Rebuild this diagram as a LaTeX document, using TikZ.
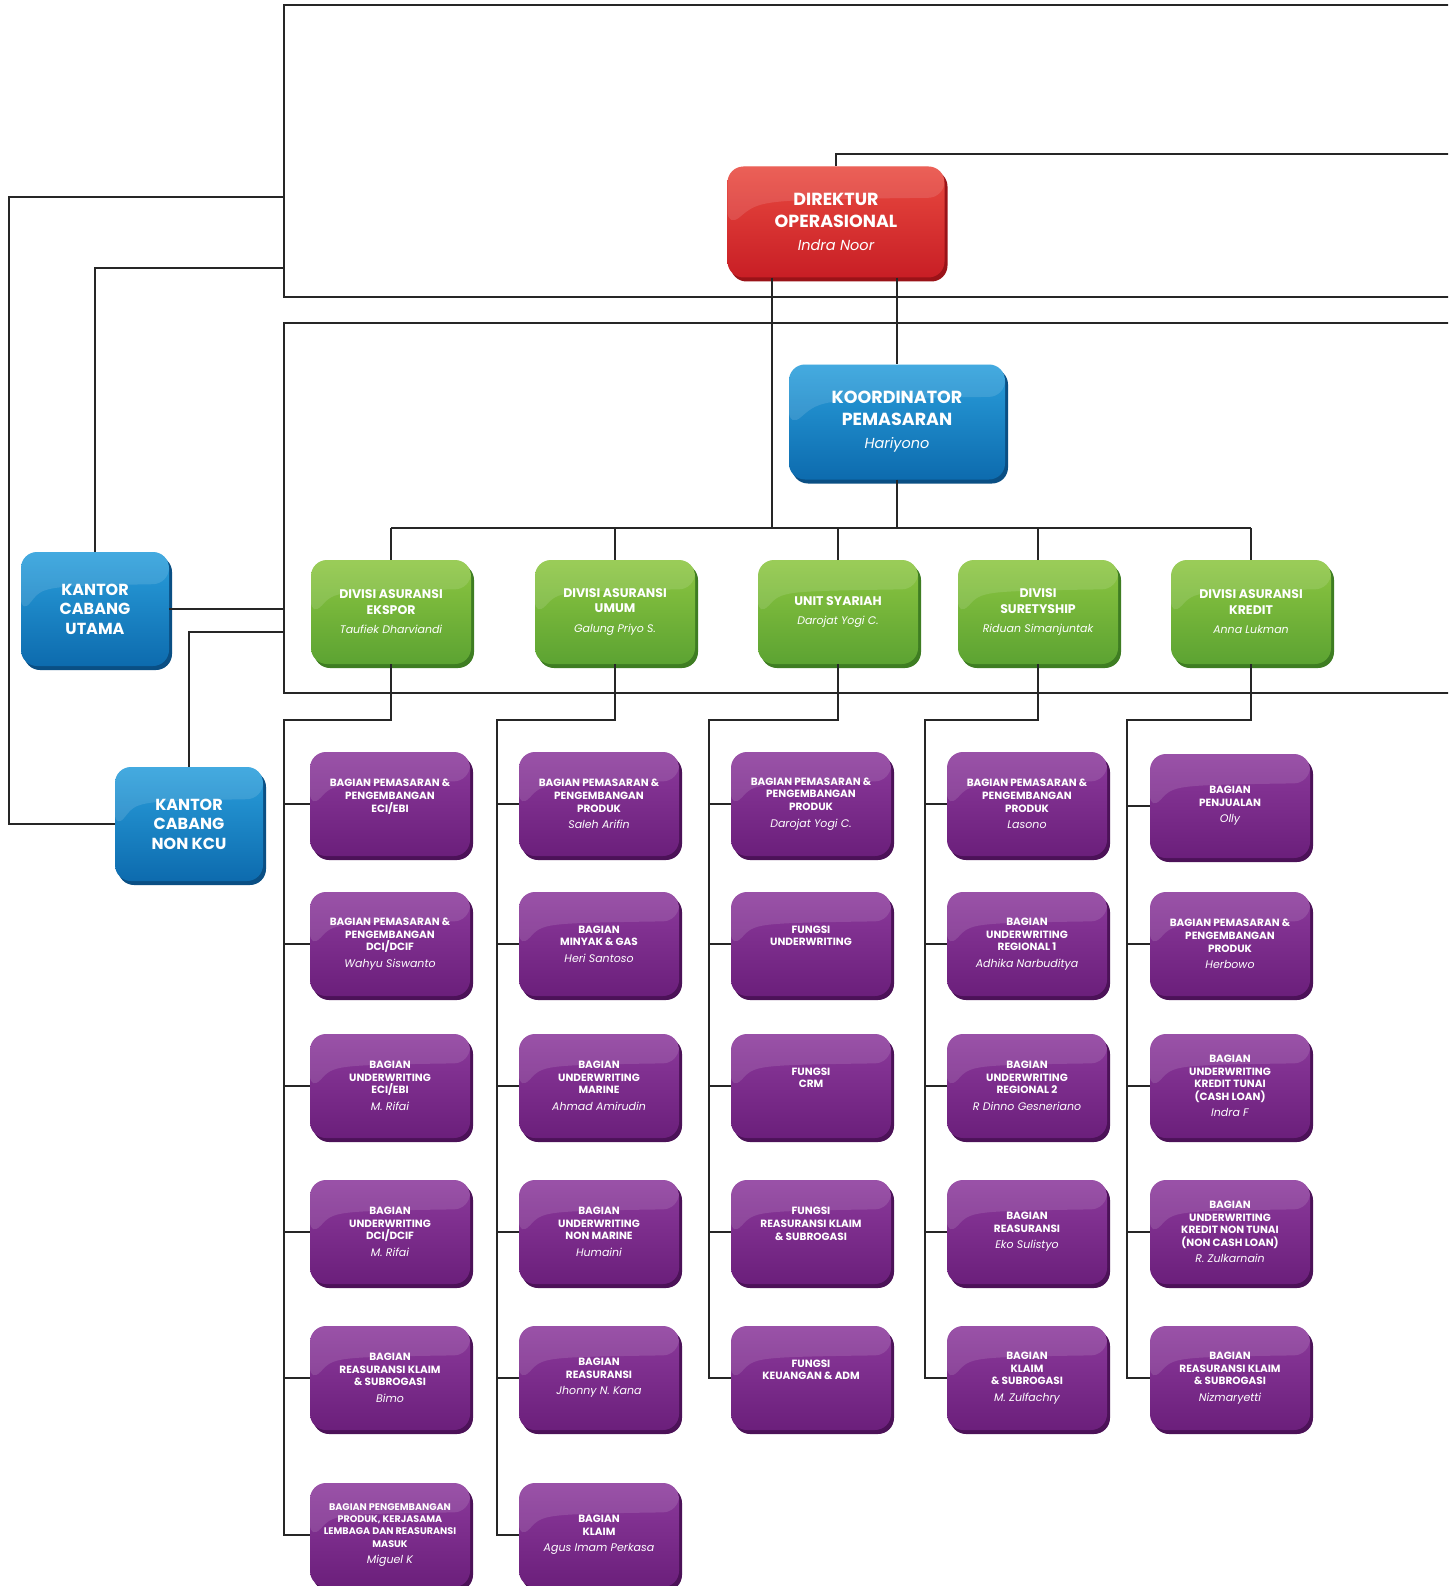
\documentclass[tikz,border=0pt]{standalone}
\usepackage{fontspec}
\setmainfont{Poppins}
\usetikzlibrary{shadows,calc}
\definecolor{linec}{HTML}{262626}
\definecolor{redT}{HTML}{E94A40}
\definecolor{redB}{HTML}{C81E25}
\definecolor{redS}{HTML}{9A1318}
\definecolor{bluT}{HTML}{2A9FDC}
\definecolor{bluB}{HTML}{0D6BAE}
\definecolor{bluS}{HTML}{0A4F84}
\definecolor{grnT}{HTML}{8DC641}
\definecolor{grnB}{HTML}{5CA332}
\definecolor{grnS}{HTML}{3E7D22}
\definecolor{purT}{HTML}{8C3A9C}
\definecolor{purB}{HTML}{6B1F7B}
\definecolor{purS}{HTML}{4C1258}
\tikzset{
  conn/.style={draw=linec, line width=2.3pt},
  gloss/.style={path picture={\fill[white,opacity=0.12]
     (path picture bounding box.north west)
     -- ($(path picture bounding box.north west)!0.55!(path picture bounding box.south west)$)
     .. controls ($(path picture bounding box.north west)!0.3!(path picture bounding box.south)$)
     .. ($(path picture bounding box.north east)!0.28!(path picture bounding box.south east)$)
     -- (path picture bounding box.north east) -- cycle;}},
  box/.style={rounded corners=16pt, align=center, text=white, inner sep=2pt, gloss},
  redbox/.style={box, top color=redT, bottom color=redB,
     drop shadow={shadow xshift=3pt,shadow yshift=-4pt,fill=redS,opacity=1},
     minimum width=217pt, minimum height=111pt, font=\bfseries\fontsize{17.5}{22}\selectfont},
  blubox/.style={box, top color=bluT, bottom color=bluB,
     drop shadow={shadow xshift=3pt,shadow yshift=-4pt,fill=bluS,opacity=1},
     font=\bfseries\fontsize{17.5}{22}\selectfont},
  kbox/.style={box, top color=bluT, bottom color=bluB,
     drop shadow={shadow xshift=3pt,shadow yshift=-4pt,fill=bluS,opacity=1},
     minimum width=148pt, minimum height=114pt, font=\bfseries\fontsize{16}{19.5}\selectfont},
  gbox/.style={box, top color=grnT, bottom color=grnB,
     drop shadow={shadow xshift=3pt,shadow yshift=-4pt,fill=grnS,opacity=1},
     minimum width=160pt, minimum height=104pt, font=\bfseries\fontsize{12.5}{15.5}\selectfont},
  pbox/.style={box, top color=purT, bottom color=purB,
     drop shadow={shadow xshift=3pt,shadow yshift=-4pt,fill=purS,opacity=1},
     minimum width=160pt, minimum height=104pt, font=\bfseries\fontsize{10.5}{12.6}\selectfont},
}
\newcommand\bignm[1]{\\[1pt]{\mdseries\itshape\fontsize{14.5}{17}\selectfont #1}}
\newcommand\gnm[1]{\\[4pt]{\mdseries\itshape\fontsize{11}{13}\selectfont #1}}
\newcommand\pnm[1]{\\[4pt]{\mdseries\itshape\fontsize{11}{13}\selectfont #1}}
\newcommand\pnone{\\[4pt]\mbox{}}
\begin{document}
\begin{tikzpicture}[x=1pt,y=-1pt]
\useasboundingbox (0,0) rectangle (1448,1586);
\clip (0,0) rectangle (1448,1586);
\fill[white] (0,0) rectangle (1448,1586);

% frame coordinates
\coordinate (f1a) at (1460,5);
\coordinate (f1b) at (284,5);
\coordinate (f1c) at (284,297);
\coordinate (f1d) at (1460,297);
\coordinate (f2a) at (1460,323);
\coordinate (f2b) at (284,323);
\coordinate (f2c) at (284,693);
\coordinate (f2d) at (1460,693);
\coordinate (f1L1) at (284,197);
\coordinate (f1L2) at (284,268);
\coordinate (f2L) at (284,632);
\coordinate (lcorner) at (9,197);
\coordinate (topR) at (1460,154);
\coordinate (busY) at (0,528);
\coordinate (t1) at (284,720);
\coordinate (t2) at (497,720);
\coordinate (t3) at (709,720);
\coordinate (t4) at (925,720);
\coordinate (t5) at (1127,720);

\draw[conn] (f1a) -- (f1b) -- (f1c) -- (f1d);
\draw[conn] (f2a) -- (f2b) -- (f2c) -- (f2d);

% top nodes
\node[redbox] (dir) at (836,222) {DIREKTUR\\OPERASIONAL\bignm{Indra Noor}};
\node[blubox, minimum width=216pt, minimum height=115pt] (koor) at (897,422) {KOORDINATOR\\PEMASARAN\bignm{Hariyono}};
\node[kbox] (kcu) at (95,609) {KANTOR\\CABANG\\UTAMA};
\node[kbox] (nkcu) at (189,824) {KANTOR\\CABANG\\NON KCU};

% green
\node[gbox] (g1) at (391,612) {DIVISI ASURANSI\\EKSPOR\gnm{Taufiek Dharviandi}};
\node[gbox] (g2) at (615,612) {DIVISI ASURANSI\\UMUM\gnm{Galung Priyo S.}};
\node[gbox] (g3) at (838,612) {UNIT SYARIAH\gnm{Darojat Yogi C.}};
\node[gbox] (g4) at (1038,612) {DIVISI\\SURETYSHIP\gnm{Riduan Simanjuntak}};
\node[gbox] (g5) at (1251,612) {DIVISI ASURANSI\\KREDIT\gnm{Anna Lukman}};

% column 1
\node[pbox] (p11) at (390,804) {BAGIAN PEMASARAN \&\\PENGEMBANGAN\\ECI/EBI\pnone};
\node[pbox] (p12) at (390,944) {BAGIAN PEMASARAN \&\\PENGEMBANGAN\\DCI/DCIF\pnm{Wahyu Siswanto}};
\node[pbox] (p13) at (390,1086) {BAGIAN\\UNDERWRITING\\ECI/EBI\pnm{M. Rifai}};
\node[pbox] (p14) at (390,1232) {BAGIAN\\UNDERWRITING\\DCI/DCIF\pnm{M. Rifai}};
\node[pbox] (p15) at (390,1378) {BAGIAN\\REASURANSI KLAIM\\\& SUBROGASI\pnm{Bimo}};
\node[pbox, font=\bfseries\fontsize{9.6}{12.4}\selectfont] (p16) at (390,1535) {BAGIAN PENGEMBANGAN\\PRODUK, KERJASAMA\\LEMBAGA DAN REASURANSI\\MASUK\pnm{Miguel K}};
% column 2
\node[pbox] (p21) at (599,804) {BAGIAN PEMASARAN \&\\PENGEMBANGAN\\PRODUK\pnm{Saleh Arifin}};
\node[pbox] (p22) at (599,944) {BAGIAN\\MINYAK \& GAS\pnm{Heri Santoso}};
\node[pbox] (p23) at (599,1086) {BAGIAN\\UNDERWRITING\\MARINE\pnm{Ahmad Amirudin}};
\node[pbox] (p24) at (599,1232) {BAGIAN\\UNDERWRITING\\NON MARINE\pnm{Humaini}};
\node[pbox] (p25) at (599,1378) {BAGIAN\\REASURANSI\pnm{Jhonny N. Kana}};
\node[pbox] (p26) at (599,1535) {BAGIAN\\KLAIM\pnm{Agus Imam Perkasa}};
% column 3
\node[pbox] (p31) at (811,804) {BAGIAN PEMASARAN \&\\PENGEMBANGAN\\PRODUK\pnm{Darojat Yogi C.}};
\node[pbox] (p32) at (811,944) {FUNGSI\\UNDERWRITING\pnone};
\node[pbox] (p33) at (811,1086) {FUNGSI\\CRM\pnone};
\node[pbox] (p34) at (811,1232) {FUNGSI\\REASURANSI KLAIM\\\& SUBROGASI\pnone};
\node[pbox] (p35) at (811,1378) {FUNGSI\\KEUANGAN \& ADM\pnone};
% column 4
\node[pbox] (p41) at (1027,804) {BAGIAN PEMASARAN \&\\PENGEMBANGAN\\PRODUK\pnm{Lasono}};
\node[pbox] (p42) at (1027,944) {BAGIAN\\UNDERWRITING\\REGIONAL 1\pnm{Adhika Narbuditya}};
\node[pbox] (p43) at (1027,1086) {BAGIAN\\UNDERWRITING\\REGIONAL 2\pnm{R Dinno Gesneriano}};
\node[pbox] (p44) at (1027,1232) {BAGIAN\\REASURANSI\pnm{Eko Sulistyo}};
\node[pbox] (p45) at (1027,1378) {BAGIAN\\KLAIM\\\& SUBROGASI\pnm{M. Zulfachry}};
% column 5
\node[pbox] (p51) at (1230,806) {BAGIAN\\PENJUALAN\pnm{Olly}};
\node[pbox] (p52) at (1230,944) {BAGIAN PEMASARAN \&\\PENGEMBANGAN\\PRODUK\pnm{Herbowo}};
\node[pbox] (p53) at (1230,1086) {BAGIAN\\UNDERWRITING\\KREDIT TUNAI\\(CASH LOAN)\pnm{Indra F}};
\node[pbox] (p54) at (1230,1232) {BAGIAN\\UNDERWRITING\\KREDIT NON TUNAI\\(NON CASH LOAN)\pnm{R. Zulkarnain}};
\node[pbox] (p55) at (1230,1378) {BAGIAN\\REASURANSI KLAIM\\\& SUBROGASI\pnm{Nizmaryetti}};

% connectors top
\draw[conn] (dir.north) |- (topR);
\draw[conn] (dir.south -| koor.north) -- (koor.north);
\draw[conn] ([xshift=-64pt]dir.south) -- ([xshift=-64pt]dir.south |- busY);
\draw[conn] (koor.south) -- (koor.south |- busY);
\draw[conn] (g1.north |- busY) -- (g5.north |- busY);
\foreach \g in {g1,g2,g3,g4,g5} \draw[conn] (\g.north |- busY) -- (\g.north);

% left connectors
\draw[conn] (kcu.north) |- (f1L2);
\draw[conn] (kcu.east) -- (kcu.east -| f2c);
\draw[conn] (nkcu.north) |- (f2L);
\draw[conn] (nkcu.west) -| (lcorner) -- (f1L1);

% columns
\draw[conn] (g1.south) |- (t1) |- (p16.west);
\foreach \p in {p11,p12,p13,p14,p15} \draw[conn] (t1 |- \p.west) -- (\p.west);
\draw[conn] (g2.south) |- (t2) |- (p26.west);
\foreach \p in {p21,p22,p23,p24,p25} \draw[conn] (t2 |- \p.west) -- (\p.west);
\draw[conn] (g3.south) |- (t3) |- (p35.west);
\foreach \p in {p31,p32,p33,p34} \draw[conn] (t3 |- \p.west) -- (\p.west);
\draw[conn] (g4.south) |- (t4) |- (p45.west);
\foreach \p in {p41,p42,p43,p44} \draw[conn] (t4 |- \p.west) -- (\p.west);
\draw[conn] (g5.south) |- (t5) |- (p55.west);
\foreach \p in {p51,p52,p53,p54} \draw[conn] (t5 |- \p.west) -- (\p.west);
\end{tikzpicture}
\end{document}
